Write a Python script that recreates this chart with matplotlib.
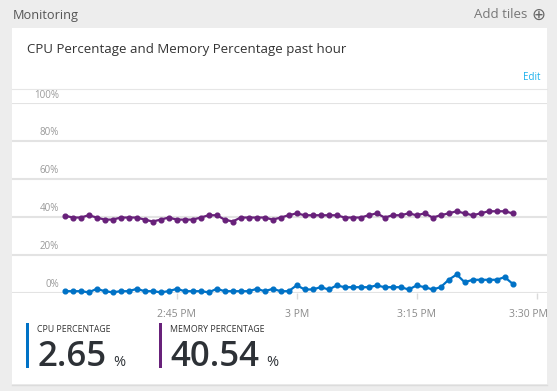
import matplotlib
matplotlib.use("Agg")
import matplotlib.pyplot as plt
from matplotlib.patches import Rectangle
from matplotlib.lines import Line2D
from matplotlib.transforms import ScaledTranslation

# minutes after 2:00 PM, one sample per minute (2:31 .. 3:27)
minutes = list(range(31, 88))
cpu_pct = [0.7, 0.7, 0.7, 0.1, 1.9, 0.7, 0.1, 0.7, 0.7, 1.9,
           0.7, 0.7, 0.1, 0.7, 1.9, 0.7, 0.7, 0.7, 0.1, 1.9,
           0.7, 0.7, 0.7, 0.7, 1.9, 0.7, 1.9, 0.7, 0.7, 3.8,
           1.6, 1.6, 2.8, 1.6, 3.7, 2.8, 2.8, 2.8, 2.8, 3.7,
           2.8, 2.8, 2.8, 1.6, 3.7, 2.8, 1.6, 2.8, 6.7, 9.5,
           5.4, 6.7, 6.7, 6.7, 6.7, 8.1, 4.6]
mem_pct = [40.5, 39.5, 39.5, 40.7, 39.5, 38.4, 38.4, 39.5, 39.5, 39.5,
           38.4, 37.4, 38.4, 39.5, 38.4, 38.4, 38.4, 39.5, 40.7, 40.7,
           38.4, 37.4, 39.5, 39.5, 39.5, 39.5, 38.4, 39.5, 40.7, 41.7,
           40.7, 40.7, 40.7, 40.7, 40.7, 39.5, 39.5, 39.5, 40.7, 41.7,
           39.5, 40.7, 40.7, 41.7, 40.7, 41.7, 39.5, 40.7, 41.7, 42.8,
           41.7, 40.7, 41.7, 42.8, 42.8, 42.8, 41.7]
x_ticks = [45, 60, 75, 90]
x_labels = ["2:45 PM", "3 PM", "3:15 PM", "3:30 PM"]
y_ticks = [0, 20, 40, 60, 80, 100]
y_labels = ["0%", "20%", "40%", "60%", "80%", "100%"]
summary = [("CPU PERCENTAGE", "2.65", "#0072c6"),
           ("MEMORY PERCENTAGE", "40.54", "#68217a")]

W, H = 557, 391
FONT = ["Open Sans", "DejaVu Sans"]
plt.rcParams["font.family"] = FONT

fig = plt.figure(figsize=(W / 100, H / 100), dpi=100, facecolor="#ededed")


def fx(px):
    return px / W


def fy(py):
    return 1 - py / H


# white card
fig.add_artist(Rectangle((fx(11.7), fy(384)), fx(547.3) - fx(11.7), fy(28.3) - fy(384),
                         transform=fig.transFigure, facecolor="white",
                         edgecolor="none", zorder=0))
fig.add_artist(Line2D([fx(11.7), fx(547.3)], [fy(384.5), fy(384.5)],
                      transform=fig.transFigure, color="#dcdcdc", lw=1, zorder=0))
fig.add_artist(Line2D([fx(11.7), fx(547.3)], [fy(88.5), fy(88.5)],
                      transform=fig.transFigure, color="#e6e6e6", lw=0.8, zorder=1))

fig.text(fx(13), fy(15), "Monitoring", color="#555555", fontsize=9.2, va="center")
fig.text(fx(527), fy(14), "Add tiles", color="#777777", fontsize=9.5,
         va="center", ha="right")
fig.text(fx(538.5), fy(14.5), "\u2295", color="#666666", fontsize=12, va="center",
         ha="center", family=["DejaVu Sans"])
fig.text(fx(27), fy(49), "CPU Percentage and Memory Percentage past hour",
         color="#333333", fontsize=9.5, va="center")
fig.text(fx(540), fy(77.5), "Edit", color="#1ab0ec", fontsize=7, va="center", ha="right")

# chart area
ax = fig.add_axes([fx(11.7), fy(292.5), fx(547.3) - fx(11.7), fy(102.7) - fy(292.5)])
ax.set_facecolor("none")
ax.set_xlim(24.375, 91.33)
ax.set_ylim(0, 100)
for s in ax.spines.values():
    s.set_visible(False)

ax.set_yticks(y_ticks)
ax.set_yticklabels(y_labels)
ax.yaxis.grid(True, color="#e3e3e3", lw=1.5)
ax.set_axisbelow(True)
ax.tick_params(axis="y", length=0, pad=-34, labelsize=7, labelcolor="#999999")
for lab in ax.get_yticklabels():
    lab.set_verticalalignment("center")
    lab.set_transform(lab.get_transform() + ScaledTranslation(0, 7.7 / 100, fig.dpi_scale_trans))

ax.set_xticks(x_ticks)
ax.set_xticklabels(x_labels)
ax.tick_params(axis="x", length=4, width=1, color="#dadada", pad=8,
               labelsize=7.5, labelcolor="#8a8a8a")
last = ax.get_xticklabels()[-1]
last.set_transform(last.get_transform() + ScaledTranslation(-8.7 / 100, 0, fig.dpi_scale_trans))

ax.plot(minutes, mem_pct, color="#68217a", lw=1.6, marker="o", markersize=3.4, clip_on=False)
ax.plot(minutes, cpu_pct, color="#0072c6", lw=1.6, marker="o", markersize=3.4, clip_on=False)

# summary tiles under the chart
for (name, value, color), x0 in zip(summary, [27.3, 160]):
    fig.add_artist(Rectangle((fx(x0 - 1.5), fy(368)), fx(3), fy(323) - fy(368),
                             transform=fig.transFigure, facecolor=color, edgecolor="none"))
    fig.text(fx(x0 + 10), fy(329), name, color="#333333", fontsize=6.3, va="center")
    t = fig.text(fx(x0 + 10), fy(365.7), value, color="#2d3136", fontsize=25,
                 va="baseline", fontweight="semibold")
    fig.canvas.draw()
    bb = t.get_window_extent()
    fig.text((bb.x1 + 7) / W, fy(365.7), "%", color="#2d3136", fontsize=10.5,
             va="baseline")

fig.savefig("out.png", dpi=100, facecolor=fig.get_facecolor())
